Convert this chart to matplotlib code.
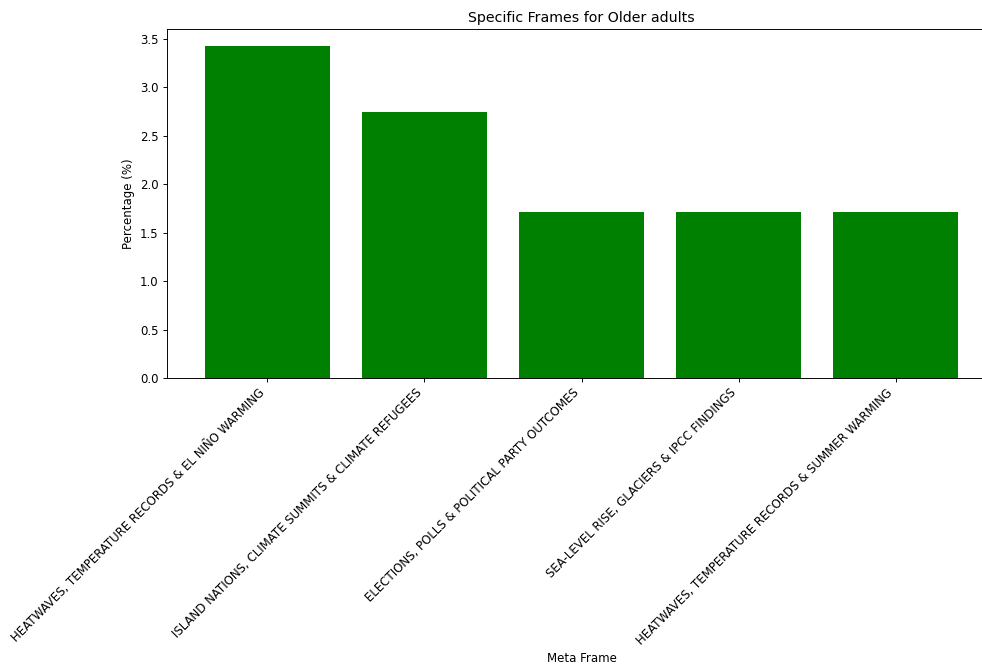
#! /usr/bin/env python3

import matplotlib
matplotlib.use("Agg")
from matplotlib import pyplot as plt

frames = [
    "HEATWAVES, TEMPERATURE RECORDS & EL NIÑO WARMING",
    "ISLAND NATIONS, CLIMATE SUMMITS & CLIMATE REFUGEES",
    "ELECTIONS, POLLS & POLITICAL PARTY OUTCOMES",
    "SEA-LEVEL RISE, GLACIERS & IPCC FINDINGS",
    "HEATWAVES, TEMPERATURE RECORDS & SUMMER WARMING",
]
percentages = [3.43, 2.74, 1.71, 1.71, 1.71]

W, H = 982, 666
DPI = 85
fig = plt.figure(figsize=(W / DPI, H / DPI), dpi=DPI)
# axes run past the right edge, as in the reference crop
ax = fig.add_axes([167 / W, (H - 378) / H, (996 - 167) / W, (378 - 29) / H])

ax.bar(range(len(frames)), percentages, color='green')
ax.set_xticks(range(len(frames)))
ax.set_xticklabels(frames, rotation=45, ha='right')
ax.set_title('Specific Frames for Older adults')
ax.set_xlabel('Meta Frame')
ax.set_ylabel('Percentage (%)')

fig.savefig("out.png", dpi=DPI)
